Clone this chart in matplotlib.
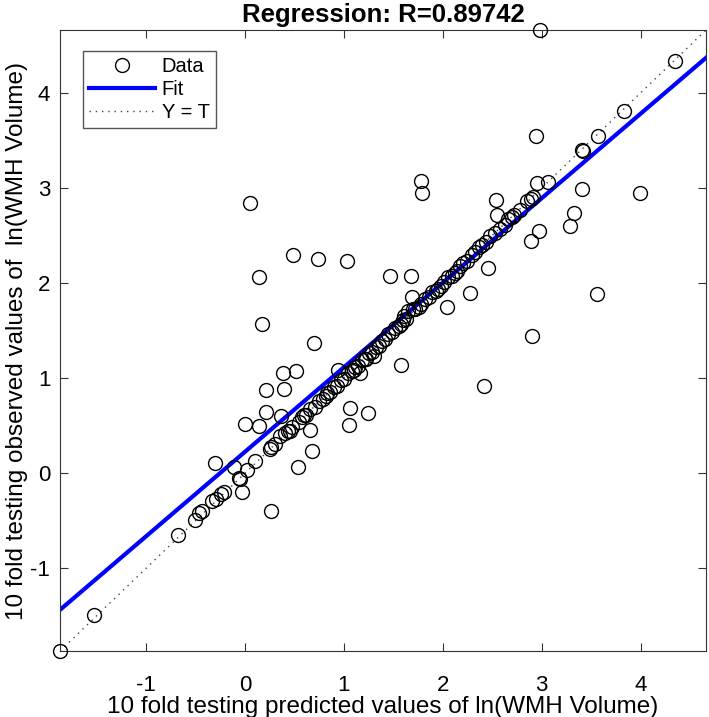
import matplotlib
matplotlib.use('Agg')
import matplotlib.pyplot as plt
import numpy as np

# predicted (x) / observed (y) values
pred = [2.98, 4.35, 3.83, 3.57, 3.41, 3.42, 2.94, 3.06, 2.95, 3.41, 3.99,
        1.78, 1.79, 2.89, 2.91, 2.54, 2.55, 2.78, 2.70, 2.63, 2.53, 3.33,
        3.29, 2.97, 2.89, 2.40, 2.37, 2.46, 2.29, 2.27, 2.04, 3.56, 2.90,
        1.68, 1.69, 1.78, 1.93, 2.01, 2.09, 2.17, 2.14, 1.98, 1.61, 1.65,
        1.70, 1.58, 0.49, 0.74, 1.03, 0.14, 1.47, 0.17, 0.70, 0.38, 0.52,
        0.94, 1.16, 1.58, 1.30, 0.21, 0.39, 1.06, 1.24, 1.05, 0.21, 0.36,
        0.00, 0.14, 0.66, 0.68, 0.54, 0.26, -0.30, 0.10, -0.11, 0.02, -0.06,
        -0.05, 0.25, 0.35, 0.40, 0.43, -0.03, 0.26, -0.21, -0.24, -0.29,
        -0.33, -0.43, -0.46, -0.51, -0.68, -1.53, -1.87, 0.05, 2.42,
        0.30, 0.45, 0.48, 0.55, 0.58, 0.62, 0.66, 0.71, 0.75, 0.79, 0.83,
        0.86, 0.90, 0.93, 0.97, 1.00, 1.04, 1.08, 1.11, 1.14, 1.18, 1.21,
        1.25, 1.28, 1.32, 1.35, 1.38, 1.42, 1.45, 1.49, 1.52, 1.56, 1.60,
        1.63, 1.72, 1.76, 1.82, 1.86, 1.89, 1.95, 2.05, 2.12, 2.20, 2.24,
        2.32, 2.44, 2.48, 2.58, 2.66, 2.72, 2.85, 1.10, 1.22, 0.82, 0.60]
obs = [4.66, 4.33, 3.81, 3.55, 3.40, 3.39, 3.55, 3.06, 3.05, 2.99, 2.95,
       3.07, 2.95, 2.88, 2.90, 2.87, 2.71, 2.77, 2.69, 2.61, 2.53, 2.74,
       2.60, 2.55, 2.44, 2.40, 2.38, 2.16, 2.29, 1.89, 1.75, 1.88, 1.44,
       2.07, 1.85, 1.78, 1.92, 2.01, 2.07, 2.18, 2.13, 1.97, 1.65, 1.70,
       1.73, 1.57, 2.29, 2.25, 2.23, 2.06, 2.07, 1.57, 1.37, 1.05, 1.07,
       1.09, 1.05, 1.14, 1.23, 0.87, 0.88, 0.68, 0.63, 0.51, 0.64, 0.60,
       0.52, 0.50, 0.45, 0.23, 0.07, 0.27, 0.11, 0.13, 0.07, 0.03, -0.05,
       -0.06, 0.25, 0.39, 0.42, 0.44, -0.20, -0.40, -0.20, -0.22, -0.27,
       -0.29, -0.40, -0.42, -0.49, -0.65, -1.49, -1.87, 2.84, 0.92,
       0.31, 0.44, 0.49, 0.54, 0.59, 0.61, 0.67, 0.70, 0.76, 0.78, 0.84,
       0.85, 0.91, 0.92, 0.98, 0.99, 1.05, 1.07, 1.12, 1.13, 1.19, 1.20,
       1.26, 1.27, 1.33, 1.34, 1.39, 1.41, 1.46, 1.48, 1.53, 1.55, 1.61,
       1.62, 1.73, 1.75, 1.83, 1.85, 1.90, 1.94, 2.06, 2.11, 2.21, 2.23,
       2.33, 2.43, 2.49, 2.57, 2.67, 2.71, 2.86, 1.08, 1.20, 0.81, 0.61]

fit_slope = 0.889
fit_icpt = 0.225
r_value = 0.89742
ticks = [-1, 0, 1, 2, 3, 4]

plt.rcParams['font.family'] = ['Liberation Sans', 'DejaVu Sans']
plt.rcParams['axes.unicode_minus'] = False

fig = plt.figure(figsize=(7.09, 7.17), dpi=100)
ax = fig.add_axes([60 / 709, 66 / 717, 646 / 709, 621 / 717])

lim = [min(min(pred), min(obs)), max(max(pred), max(obs))]
xs = np.array(lim)

ax.plot(pred, obs, 'o', mfc='none', mec='black', ms=10, mew=1.0,
        label='Data', clip_on=False, zorder=3)
ax.plot(xs, fit_slope * xs + fit_icpt, color='#0000ff', lw=3, label='Fit', zorder=2)
ax.plot(xs, xs, linestyle=(0, (1, 3.5)), color='#444444', lw=1, label='Y = T', zorder=1)

ax.set_xlim(lim)
ax.set_ylim(lim)
ax.set_xticks(ticks)
ax.set_yticks(ticks)
ax.tick_params(direction='in', length=6, top=True, right=True,
               labelsize=16, color='#333333')
ax.tick_params(axis='x', pad=17)
ax.tick_params(axis='y', pad=7)
for s in ax.spines.values():
    s.set_color('#333333')

ax.set_xlabel('10 fold testing predicted values of ln(WMH Volume)', fontsize=17.5)
ax.xaxis.set_label_coords(0.5, -0.072)
ax.set_ylabel('10 fold testing observed values of  ln(WMH Volume)', fontsize=17.5)
ax.yaxis.set_label_coords(-0.05, 0.5)
ax.set_title('Regression: R=%.5f' % r_value, fontsize=18.5, fontweight='bold', pad=6)

leg = ax.legend(loc='upper left', bbox_to_anchor=(0.0356, 0.966), borderaxespad=0,
                fontsize=14.5, fancybox=False, framealpha=1, edgecolor='#555555',
                handlelength=3.3, handletextpad=0.3, borderpad=0.3,
                labelspacing=0.2)
leg.get_frame().set_linewidth(1.0)

fig.savefig('out.png', dpi=100)
